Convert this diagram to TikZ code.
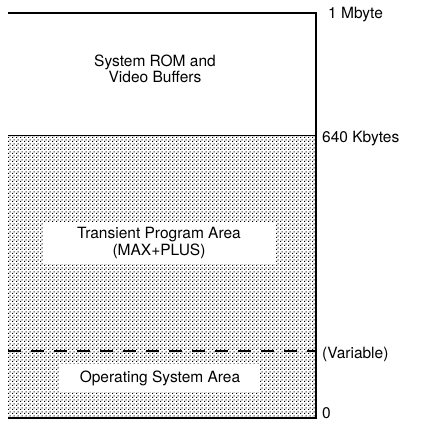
\documentclass[tikz,border=0pt]{standalone}
\usepackage{fontspec}
\setmainfont{TeX Gyre Heros}
\usetikzlibrary{patterns, positioning}

% Fine dot screen of the lower memory
\pgfdeclarepatternformonly{memdots}{\pgfqpoint{0pt}{0pt}}{\pgfqpoint{4pt}{4pt}}{\pgfqpoint{4pt}{4pt}}{%
  \pgfpathrectangle{\pgfqpoint{0pt}{0pt}}{\pgfqpoint{1.3pt}{1.3pt}}%
  \pgfpathrectangle{\pgfqpoint{2pt}{2pt}}{\pgfqpoint{1.3pt}{1.3pt}}%
  \pgfusepath{fill}}

\begin{document}
\begin{tikzpicture}[
    x=1pt, y=-1pt,
    font=\fontsize{15.5}{17}\selectfont,
    addr/.style={anchor=west, inner sep=0pt},
    areabox/.style={fill=white, inner sep=0pt, align=center, font=\fontsize{15.5}{17.5}\selectfont},
    border/.style={line width=1.2pt},
    memory/.style={pattern=memdots, pattern color=black}
]
\useasboundingbox (0,0) rectangle (428,421);

% Corners
\coordinate (topleft) at (8,13);
\coordinate (topright) at (316,13);
\coordinate (midleft) at (8,135.5);
\coordinate (midright) at (316,135.5);
\coordinate (botleft) at (8,418);
\coordinate (botright) at (316,418);
\coordinate (varleft) at (8,351);
\coordinate (varright) at (315,351);

% Regions
\fill[memory] (midleft) rectangle (botright);
\draw[border] (topleft) -- (topright) -- (botright) -- (botleft);
\draw[border] (midleft) -- (midright);
\draw[dash pattern=on 13pt off 10pt, line width=1.2pt] (varleft) -- (varright);

% Area names
\node[align=center, font=\fontsize{15.5}{16}\selectfont] (rom) at (155,69) {System ROM and\\Video Buffers};
\node[areabox, minimum width=232pt, minimum height=41pt] (tpa) at (159,243) {Transient Program Area\\(MAX+PLUS)};
\node[areabox, minimum width=200pt, minimum height=28pt] (osa) at (160,378) {Operating System Area};

% Addresses
\node[addr] (mbyte) at (328,15) {1 Mbyte};
\node[addr] (kbytes) at (322,139) {640 Kbytes};
\node[addr] (variable) at (322,354) {(Variable)};
\node[addr, anchor=south west] (zero) at (322,419) {0};

\end{tikzpicture}
\end{document}
